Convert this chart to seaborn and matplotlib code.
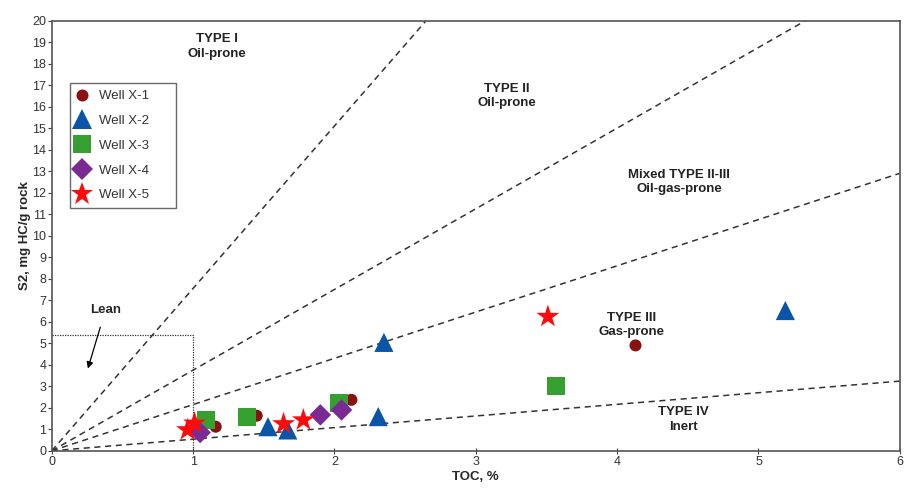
import pandas as pd
import seaborn as sns
import matplotlib.pyplot as plt

# ----------------------
# Data
# ----------------------
wells = ["Well X-1", "Well X-2", "Well X-3", "Well X-4", "Well X-5"]

toc_x1 = [1.16, 1.45, 2.12, 4.13]
s2_x1 = [1.12, 1.63, 2.37, 4.90]

toc_x2 = [1.53, 1.67, 2.31, 2.35, 5.19]
s2_x2 = [1.12, 0.97, 1.59, 5.04, 6.52]

toc_x3 = [1.09, 1.38, 2.03, 3.57]
s2_x3 = [1.43, 1.56, 2.24, 3.02]

toc_x4 = [1.05, 1.90, 2.05]
s2_x4 = [0.85, 1.67, 1.90]

toc_x5 = [0.96, 1.01, 1.64, 1.78, 3.51]
s2_x5 = [0.97, 1.28, 1.25, 1.43, 6.24]

rows = []
for name, xs, ys in zip(wells, [toc_x1, toc_x2, toc_x3, toc_x4, toc_x5],
                        [s2_x1, s2_x2, s2_x3, s2_x4, s2_x5]):
    for x, y in zip(xs, ys):
        rows.append({"TOC": x, "S2": y, "Well": name})
df = pd.DataFrame(rows)

# kerogen type boundary lines (slope of S2 vs TOC)
boundary_slopes = [7.55, 3.75, 2.15, 0.54]

colors = {"Well X-1": "#8b1111", "Well X-2": "#0b55a8", "Well X-3": "#35a02f",
          "Well X-4": "#7a2a95", "Well X-5": "#ff0a0a"}
markers = {"Well X-1": "o", "Well X-2": "^", "Well X-3": "s",
           "Well X-4": "D", "Well X-5": "*"}
sizes = {"Well X-1": 75, "Well X-2": 190, "Well X-3": 170,
         "Well X-4": 120, "Well X-5": 300}

sns.set_style("white")
plt.rcParams['font.family'] = ['Liberation Sans', 'DejaVu Sans']

fig = plt.figure(figsize=(9.08, 4.9), dpi=100)
ax = fig.add_axes([0.057, 0.080, 0.934, 0.878])

# boundary lines
for m in boundary_slopes:
    ax.plot([0, 6], [0, 6 * m], ls=(0, (4, 3)), color="#333333", lw=1.1, zorder=1)

# "Lean" box
ax.plot([0, 1, 1], [5.4, 5.4, 0], ls=(0, (1, 1)), color="#333333", lw=0.9, zorder=1)
ax.annotate("Lean", xy=(0.25, 3.7), xytext=(0.38, 6.55), ha="center", va="center",
            fontsize=9.5, fontweight="bold",
            arrowprops=dict(arrowstyle="-|>", color="black", lw=0.9, shrinkA=6))

sns.scatterplot(data=df, x="TOC", y="S2", hue="Well", style="Well", size="Well",
                palette=colors, markers=markers, sizes=sizes, linewidth=0,
                ax=ax, zorder=3)

labels = [(1.17, 18.8, "TYPE I\nOil-prone"),
          (3.22, 16.5, "TYPE II\nOil-prone"),
          (4.44, 12.5, "Mixed TYPE II-III\nOil-gas-prone"),
          (4.10, 5.85, "TYPE III\nGas-prone"),
          (4.47, 1.45, "TYPE IV\nInert")]
for x, y, t in labels:
    ax.text(x, y, t, ha="center", va="center", fontsize=9.5, fontweight="bold",
            linespacing=1.3, color="#222222")

ax.set_xlim(0, 6)
ax.set_ylim(0, 20)
ax.set_xticks(range(0, 7))
ax.set_yticks(range(0, 21))
ax.tick_params(axis="y", labelsize=9, length=3, direction="out", color="#444444",
               labelcolor="#333333", left=True, pad=1)
ax.tick_params(axis="x", labelsize=9, length=4, direction="inout", color="#444444",
               labelcolor="#333333", bottom=True, pad=2)
ax.set_xlabel("TOC, %", fontsize=9.5, fontweight="bold", labelpad=2)
ax.set_ylabel("S2, mg HC/g rock", fontsize=9.5, fontweight="bold", labelpad=1)
for s in ax.spines.values():
    s.set_color("#555555")
    s.set_linewidth(1.2)

leg = ax.legend(loc="upper left", bbox_to_anchor=(0.021, 0.55, 0.126, 0.304),
                mode="expand", borderaxespad=0,
                fontsize=9.5, frameon=True, fancybox=False, edgecolor="#444444",
                labelspacing=0.95, handlelength=0.9, handletextpad=0.8,
                borderpad=0.5)
leg.get_frame().set_linewidth(1.0)
for t in leg.get_texts():
    t.set_color("#333333")

fig.savefig("out.png", dpi=100)
